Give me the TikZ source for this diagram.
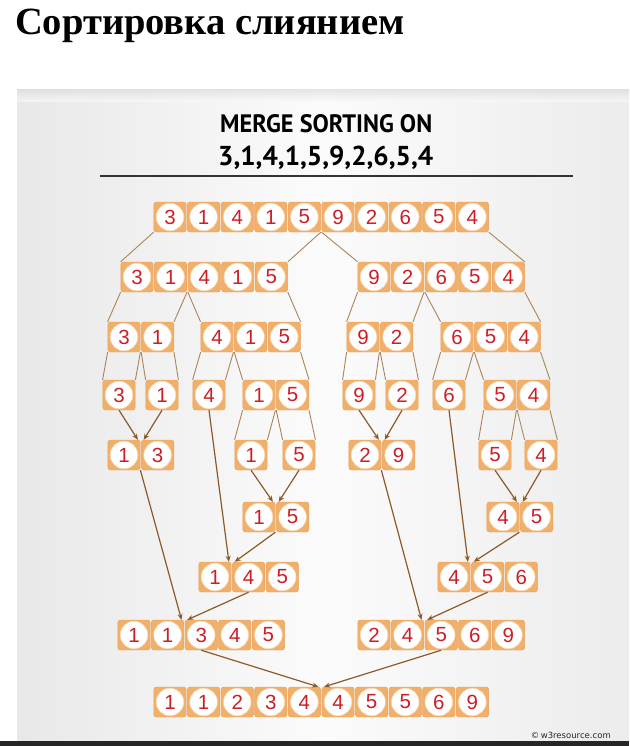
\documentclass[tikz,border=0pt]{standalone}
\usepackage{fontspec}
\setmainfont{Liberation Sans}
\newfontfamily\titlefont{Liberation Serif}
\newfontfamily\headfont{PT Sans}
\newfontfamily\wmfont{DejaVu Sans}
\usetikzlibrary{arrows.meta,calc}
\definecolor{cellor}{RGB}{241,176,106}
\definecolor{celledge}{RGB}{232,160,92}
\definecolor{digred}{RGB}{204,30,38}
\definecolor{splitc}{RGB}{170,132,88}
\definecolor{mergec}{RGB}{140,90,40}
\tikzset{
  cell/.style={minimum width=32.4pt, minimum height=30pt, inner sep=0pt,
    fill=cellor, draw=celledge, line width=0.4pt, rounded corners=2.5pt,
    text=digred, font=\fontsize{20.5}{20.5}\selectfont,
    path picture={\fill[white] (path picture bounding box.center) circle (13.8pt);
      \draw[cellor!50!white, line width=0.6pt] (path picture bounding box.center) circle (13.8pt);}},
  split/.style={draw=splitc, line width=0.9pt},
  merge/.style={draw=mergec, line width=1.2pt, -{Stealth[length=6pt,width=5pt]}},
}
\newcommand\grp[4]{\foreach \v [count=\k] in {#4}{\node[cell] (#1-\k) at ({#2+(\k-1)*33.6},#3) {\v};}}
\begin{document}
\begin{tikzpicture}[x=1pt,y=-1pt]
\useasboundingbox (0,0) rectangle (629,746);
\fill[white] (0,0) rectangle (629,746);
% panel
\shade[left color=gray!18, right color=gray!15, middle color=gray!3] (17,90) rectangle (629,741);
\shade[top color=gray!26, bottom color=gray!3, opacity=0.7] (17,90) rectangle (629,102);
\fill[gray!30!black] (0,741) rectangle (629,746);
% title
\node[anchor=base west, inner sep=0pt, font=\titlefont\bfseries\fontsize{38.5}{38.5}\selectfont] (title) at (15,35) {Сортировка слиянием};
\node[anchor=base west, inner sep=0pt] (h1) at (220,133) {\resizebox{212pt}{18pt}{\headfont\bfseries MERGE SORTING ON}};
\node[anchor=base west, inner sep=0pt] (h2) at (218,166) {\resizebox{215pt}{19.5pt}{\headfont\bfseries 3,1,4,1,5,9,2,6,5,4}};
\coordinate (hl1) at (100,176);
\coordinate (hl2) at (573,176);
\draw[gray!40!black, line width=1.1pt] (hl1) -- (hl2);
\node[anchor=base east, inner sep=0pt, text=gray!30!black, font=\wmfont\fontsize{8.5}{8.5}\selectfont] (wm) at (611,738) {©\,w3resource.com};
% rows
\grp{T}{170}{217}{3,1,4,1,5,9,2,6,5,4}
\grp{A}{137}{277}{3,1,4,1,5}
\grp{B}{374}{277}{9,2,6,5,4}
\grp{C}{124}{337}{3,1}
\grp{D}{217}{337}{4,1,5}
\grp{E}{363}{337}{9,2}
\grp{F}{457}{337}{6,5,4}
\grp{G}{119}{395}{3}
\grp{H}{162}{395}{1}
\grp{I}{209}{395}{4}
\grp{J}{259}{395}{1,5}
\grp{K}{359}{395}{9}
\grp{L}{402}{395}{2}
\grp{M}{449}{395}{6}
\grp{N}{500}{395}{5,4}
\grp{O}{124}{455}{1,3}
\grp{P}{251}{455}{1}
\grp{Q}{299}{455}{5}
\grp{R}{365}{455}{2,9}
\grp{S}{495}{455}{5}
\grp{U}{541}{455}{4}
\grp{V}{259}{517}{1,5}
\grp{W}{503}{517}{4,5}
\grp{X}{215}{577}{1,4,5}
\grp{Y}{454}{577}{4,5,6}
\grp{Z}{134}{635}{1,1,3,4,5}
\grp{ZZ}{374}{635}{2,4,5,6,9}
\grp{R9}{170}{702}{1,1,2,3,4,4,5,5,6,9}
% split lines
\draw[split] (T-1.south west) -- (A-1.north west);
\draw[split] (T-5.south east) -- (A-5.north east);
\draw[split] (T-6.south west) -- (B-1.north west);
\draw[split] (T-10.south east) -- (B-5.north east);
\draw[split] (A-1.south west) -- (C-1.north west);
\draw[split] (A-2.south east) -- (C-2.north east);
\draw[split] (A-3.south west) -- (D-1.north west);
\draw[split] (A-5.south east) -- (D-3.north east);
\draw[split] (B-1.south west) -- (E-1.north west);
\draw[split] (B-2.south east) -- (E-2.north east);
\draw[split] (B-3.south west) -- (F-1.north west);
\draw[split] (B-5.south east) -- (F-3.north east);
\draw[split] (C-1.south west) -- (G-1.north west);
\draw[split] (C-1.south east) -- (G-1.north east);
\draw[split] (C-2.south west) -- (H-1.north west);
\draw[split] (C-2.south east) -- (H-1.north east);
\draw[split] (D-1.south west) -- (I-1.north west);
\draw[split] (D-1.south east) -- (I-1.north east);
\draw[split] (D-2.south west) -- (J-1.north west);
\draw[split] (D-3.south east) -- (J-2.north east);
\draw[split] (E-1.south west) -- (K-1.north west);
\draw[split] (E-1.south east) -- (K-1.north east);
\draw[split] (E-2.south west) -- (L-1.north west);
\draw[split] (E-2.south east) -- (L-1.north east);
\draw[split] (F-1.south west) -- (M-1.north west);
\draw[split] (F-1.south east) -- (M-1.north east);
\draw[split] (F-2.south west) -- (N-1.north west);
\draw[split] (F-3.south east) -- (N-2.north east);
\draw[split] (J-1.south west) -- (P-1.north west);
\draw[split] (J-1.south east) -- (P-1.north east);
\draw[split] (J-2.south west) -- (Q-1.north west);
\draw[split] (J-2.south east) -- (Q-1.north east);
\draw[split] (N-1.south west) -- (S-1.north west);
\draw[split] (N-1.south east) -- (S-1.north east);
\draw[split] (N-2.south west) -- (U-1.north west);
\draw[split] (N-2.south east) -- (U-1.north east);
% merge arrows
\draw[merge] (G-1.south) -- ([xshift=-2.5pt]O-1.north east);
\draw[merge] (H-1.south) -- ([xshift=2.5pt]O-2.north west);
\draw[merge] (K-1.south) -- ([xshift=-2.5pt]R-1.north east);
\draw[merge] (L-1.south) -- ([xshift=2.5pt]R-2.north west);
\draw[merge] (P-1.south) -- ([xshift=-2.5pt]V-1.north east);
\draw[merge] (Q-1.south) -- ([xshift=2.5pt]V-2.north west);
\draw[merge] (S-1.south) -- ([xshift=-2.5pt]W-1.north east);
\draw[merge] (U-1.south) -- ([xshift=2.5pt]W-2.north west);
\draw[merge] (I-1.south) -- ([xshift=-2.5pt]X-1.north east);
\draw[merge] (V-1.south east) -- ([xshift=2.5pt]X-2.north west);
\draw[merge] (M-1.south) -- ([xshift=-2.5pt]Y-1.north east);
\draw[merge] (W-1.south east) -- ([xshift=2.5pt]Y-2.north west);
\draw[merge] (O-1.south east) -- ([xshift=-2.5pt]Z-2.north east);
\draw[merge] (X-2.south) -- ([xshift=2.5pt]Z-3.north west);
\draw[merge] (R-1.south east) -- ([xshift=-2.5pt]ZZ-2.north east);
\draw[merge] (Y-2.south) -- ([xshift=2.5pt]ZZ-3.north west);
\draw[merge] (Z-3.south) -- ([xshift=-2.5pt]R9-5.north east);
\draw[merge] (ZZ-3.south) -- ([xshift=2.5pt]R9-6.north west);
\end{tikzpicture}
\end{document}
